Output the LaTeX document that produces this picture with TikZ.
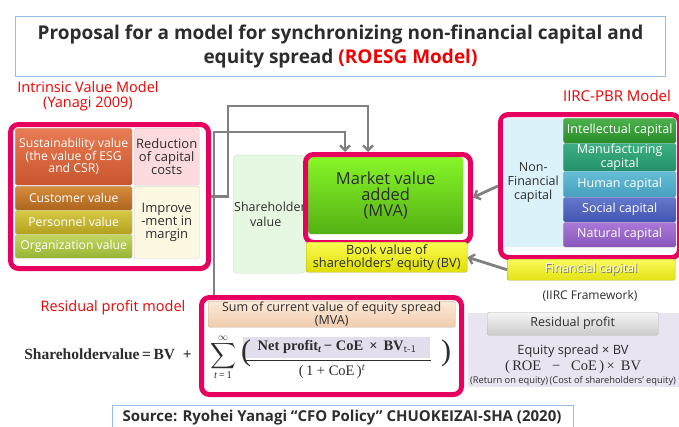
\documentclass[tikz,border=0pt]{standalone}
\usepackage{fontspec}
\setmainfont{Open Sans}
\newfontfamily\serifm{Liberation Serif}
\usetikzlibrary{arrows.meta}

\definecolor{frameM}{RGB}{232,0,94}
\definecolor{redtxt}{RGB}{240,0,0}
\definecolor{titleblue}{RGB}{150,190,230}
\definecolor{conn}{RGB}{128,128,128}
\definecolor{darktxt}{RGB}{45,45,45}
\definecolor{numhl}{RGB}{226,222,236}
\definecolor{panel}{RGB}{232,228,240}

\tikzset{
  blk/.style={anchor=north west, inner sep=1pt, align=center, rounded corners=1.5pt,
              draw=white!80!black, line width=0.4pt, text=darktxt},
  wtxt/.style={text=white},
  frame/.style={anchor=north west, draw=frameM, line width=5pt, rounded corners=8pt,
                inner sep=0pt},
  redlbl/.style={text=redtxt, font=\fontsize{14.5}{15.5}\selectfont, align=center},
  link/.style={draw=conn, line width=2.8pt},
  linkarr/.style={link, -{Straight Barb[length=5pt,width=10pt,line width=2.4pt]}},
}

\begin{document}
\begin{tikzpicture}[x=1pt,y=-1pt]
\useasboundingbox (0,0) rectangle (679,426);
\fill[white] (0,0) rectangle (679,426);

% ---------- title ----------
\node[anchor=north west, draw=titleblue, line width=1pt, minimum width=650, minimum height=60,
      align=center, text=darktxt, font=\bfseries\fontsize{19}{24}\selectfont]
  (title) at (15,16)
  {Proposal for a model for synchronizing non-financial capital and\\
   equity spread \textcolor{redtxt}{(ROESG Model)}};

% ---------- intrinsic value model ----------
\node[redlbl] (ivmlbl) at (88,96) {Intrinsic Value Model\\(Yanagi 2009)};
\node[frame, minimum width=198, minimum height=144] (ivm) at (8,122) {};
\node[blk, wtxt, minimum width=117, minimum height=57, top color={rgb,255:red,232;green,124;blue,84},
      bottom color={rgb,255:red,200;green,84;blue,44}, font=\fontsize{12.2}{12.5}\selectfont]
  (sust) at (15,128) {Sustainability value\\(the value of ESG\\and CSR)};
\node[blk, minimum width=65, minimum height=57, fill={rgb,255:red,252;green,218;blue,222},
      font=\fontsize{13}{13}\selectfont]
  (reduc) at (134,128) {Reduction\\of capital\\costs};
\node[blk, wtxt, minimum width=117, minimum height=24, top color={rgb,255:red,214;green,140;blue,60},
      bottom color={rgb,255:red,172;green,100;blue,30}, font=\fontsize{12.2}{12}\selectfont]
  (cust) at (15,186) {Customer value};
\node[blk, wtxt, minimum width=117, minimum height=24, top color={rgb,255:red,214;green,202;blue,70},
      bottom color={rgb,255:red,178;green,160;blue,30}, font=\fontsize{12.2}{12}\selectfont]
  (pers) at (15,210) {Personnel value};
\node[blk, wtxt, minimum width=117, minimum height=24, top color={rgb,255:red,196;green,214;blue,100},
      bottom color={rgb,255:red,150;green,180;blue,50}, font=\fontsize{12.2}{12}\selectfont]
  (org) at (15,234) {Organization value};
\node[blk, minimum width=65, minimum height=72, fill={rgb,255:red,252;green,248;blue,225},
      font=\fontsize{13}{13}\selectfont]
  (impr) at (134,186) {Improve\\-ment in\\margin};

% ---------- shareholder value / MVA / BV ----------
\node[blk, minimum width=72, minimum height=118, fill={rgb,255:red,230;green,248;blue,225},
      draw={rgb,255:red,200;green,228;blue,195}, rounded corners=4pt,
      font=\fontsize{12.5}{14.5}\selectfont, text width=70, align=left, inner sep=0.5pt]
  (shv) at (233,155) {Shareholder\\\hspace*{16pt}value};
\node[blk, minimum width=155, minimum height=77, top color={rgb,255:red,134;green,246;blue,40},
      bottom color={rgb,255:red,84;green,176;blue,20}, draw=none, rounded corners=3pt,
      font=\fontsize{16.5}{16}\selectfont]
  (mvain) at (308,157) {Market value\\added\\(MVA)};
\node[frame, minimum width=165, minimum height=88] (mva) at (303,152) {};
\node[blk, minimum width=161, minimum height=30, top color={rgb,255:red,250;green,250;blue,80},
      bottom color={rgb,255:red,222;green,222;blue,10}, draw={rgb,255:red,170;green,170;blue,40},
      font=\fontsize{12.8}{13}\selectfont]
  (bv) at (306,242) {Book value of\\shareholders’ equity (BV)};

% ---------- IIRC-PBR model ----------
\node[redlbl, font=\fontsize{15}{16}\selectfont] (pbrlbl) at (617,96) {IIRC-PBR Model};
\node[frame, minimum width=179, minimum height=143] (pbr) at (498,112) {};
\node[blk, minimum width=60, minimum height=129, fill={rgb,255:red,220;green,242;blue,251},
      draw=none, font=\fontsize{12.5}{14}\selectfont]
  (nonfin) at (503,118) {Non-\\Financial\\capital};
\node[blk, wtxt, minimum width=113, minimum height=25, top color={rgb,255:red,76;green,176;blue,76},
      bottom color={rgb,255:red,40;green,140;blue,40}, font=\fontsize{12.5}{12}\selectfont]
  (intel) at (563,118) {Intellectual capital};
\node[blk, wtxt, minimum width=113, minimum height=28, top color={rgb,255:red,60;green,176;blue,130},
      bottom color={rgb,255:red,36;green,144;blue,104}, font=\fontsize{12.5}{11}\selectfont]
  (manu) at (563,143) {Manufacturing\\capital};
\node[blk, wtxt, minimum width=113, minimum height=26, top color={rgb,255:red,100;green,190;blue,215},
      bottom color={rgb,255:red,70;green,160;blue,190}, font=\fontsize{12.5}{12}\selectfont]
  (human) at (563,171) {Human capital};
\node[blk, wtxt, minimum width=113, minimum height=25, top color={rgb,255:red,100;green,120;blue,205},
      bottom color={rgb,255:red,66;green,84;blue,176}, font=\fontsize{12.5}{12}\selectfont]
  (social) at (563,197) {Social capital};
\node[blk, wtxt, minimum width=113, minimum height=25, top color={rgb,255:red,170;green,120;blue,215},
      bottom color={rgb,255:red,136;green,86;blue,186}, font=\fontsize{12.5}{12}\selectfont]
  (natur) at (563,222) {Natural capital};
\node[blk, minimum width=168, minimum height=21, top color={rgb,255:red,250;green,250;blue,90},
      bottom color={rgb,255:red,226;green,226;blue,20}, draw={rgb,255:red,170;green,170;blue,40},
      text={rgb,255:red,252;green,252;blue,225}, font=\fontsize{12.5}{12}\selectfont]
  (fin) at (507,259) {\textcolor{black!55}{\makebox[0pt][l]{\hspace{0.8pt}\raisebox{-0.8pt}{Financial capital}}}Financial capital};
\node[text=darktxt, font=\fontsize{12}{12}\selectfont] (iirc) at (590,296) {(IIRC Framework)};

% ---------- residual profit model ----------
\node[redlbl] (rpmlbl) at (113,308) {Residual profit model};
\node[frame, minimum width=260, minimum height=97, fill=white] (form) at (199,295) {};
\node[blk, minimum width=247, minimum height=26, top color={rgb,255:red,252;green,234;blue,216},
      bottom color={rgb,255:red,240;green,204;blue,174}, draw={rgb,255:red,200;green,170;blue,150},
      font=\fontsize{12.5}{11}\selectfont, inner sep=0pt]
  (sumbox) at (208,301) {Sum of current value of equity spread\\(MVA)};
\fill[numhl] (243,337) rectangle (430,358);
\node[font=\serifm\bfseries\fontsize{15.5}{16}\selectfont, text=darktxt] (shveq) at (108,354)
  {Shareholder\kern-1.5pt value\,=\,BV\ \ +};
% summation sign with its limits, stacked in one box
\node[text=darktxt, inner sep=0pt] (sigma) at (223,357.5)
  {$\vcenter{\offinterlineskip\halign{\hfil#\hfil\cr
     $\infty$\cr\noalign{\kern0.5pt}
     \scalebox{1.8}{$\displaystyle\sum$}\cr\noalign{\kern1pt}
     {\serifm\fontsize{10.5}{10}\selectfont\textit{t}\,=\,1}\cr}}$};
\node[text=darktxt, font=\fontsize{30}{30}\selectfont\serifm] (lpar) at (246,353) {(};
\node[text=darktxt, font=\fontsize{30}{30}\selectfont\serifm] (rpar) at (446,353) {)};
\node[font=\serifm\bfseries\fontsize{14.5}{15}\selectfont, text=darktxt] (numer) at (337,347)
  {Net profit\textsubscript{\itshape t}\,\textminus\ CoE \,×\, BV\textsubscript{\mdseries\sffamily t-1}};
\draw[darktxt, line width=0.7pt] (245,360) -- (431,360);
\node[font=\serifm\fontsize{14.5}{15}\selectfont, text=darktxt] (denom) at (332,372)
  {(\,1 + CoE\,)\textsuperscript{\itshape t}};

% ---------- residual profit panel ----------
\fill[panel] (468,313) rectangle (679,387);
\node[blk, minimum width=171, minimum height=23, top color=white!96!black,
      bottom color=white!80!black, draw=white!70!black, font=\fontsize{12.5}{12}\selectfont]
  (resid) at (487,312) {Residual profit};
\node[text=darktxt, font=\fontsize{12.8}{13}\selectfont] (eqsp) at (573,351) {Equity spread × BV};
\node[text=darktxt, font=\serifm\fontsize{14.5}{15}\selectfont] (roe) at (573,367)
  {(\,ROE \ \ \textminus\ \ \ CoE\,)\,×\, BV};
\node[text=darktxt, font=\fontsize{9.3}{9}\selectfont, inner sep=0pt] (roenote) at (573,381)
  {(Return on equity)\,(Cost of shareholders’ equity)};

% ---------- source ----------
\draw[titleblue, line width=1pt] (112,428) |- (573,405) -- (573,428);
\node[text=darktxt, font=\bfseries\fontsize{15}{15}\selectfont] (src) at (342,418)
  {Source: Ryohei Yanagi “CFO Policy” CHUOKEIZAI-SHA\ (2020)};

% ---------- connectors ----------
\draw[linkarr] (ivm.east) -| (228,106) -| ([xshift=-20pt]mva.north);
\draw[linkarr] ([xshift=15pt]form.north west) |- (342,132) -| ([xshift=-43pt]mva.north);
\draw[linkarr] (pbr.west) -- ([yshift=1pt]mva.east);
\draw[linkarr] (fin.west) -- (bv.east);
\end{tikzpicture}
\end{document}
